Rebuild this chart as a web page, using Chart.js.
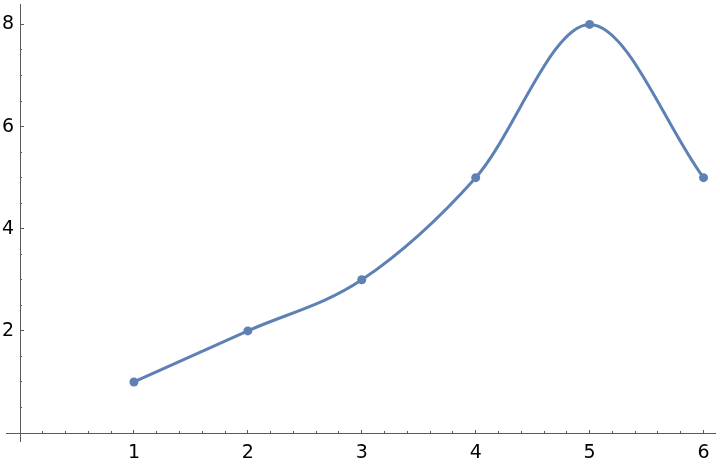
<!DOCTYPE html>
<html>
<head>
<meta charset="utf-8">
<script src="https://cdn.jsdelivr.net/npm/chart.js@4.4.0/dist/chart.umd.min.js"></script>
<style>
  html, body { margin: 0; padding: 0; background: #fff; }
</style>
</head>
<body>
<canvas id="chart" width="720" height="464"></canvas>
<script>
const xValues = [1, 2, 3, 4, 5, 6];
const yValues = [1, 2, 3, 5, 8, 5];
const xTickValues = [1, 2, 3, 4, 5, 6];
const yTickValues = [2, 4, 6, 8];

const X_MIN = -0.123;
const X_MAX = 6.105;
const Y_MIN = -0.156;
const Y_MAX = 8.39;

const AXIS_COLOR = "#5a5a5a";
const LINE_COLOR = "#5e81b5";
const labelFont = { family: "DejaVu Sans", size: 19 };

function majorTicks(values) {
  return (scale) => {
    scale.ticks = values.map((value) => ({ value }));
  };
}

// the axes sit inside the plot, so their labels should not push the plot area in
function noPadding(scale) {
  scale.paddingTop = 0;
  scale.paddingBottom = 0;
  scale.paddingLeft = 0;
  scale.paddingRight = 0;
}

new Chart(document.getElementById("chart").getContext("2d"), {
  type: "line",
  data: {
    datasets: [{
      data: xValues.map((x, i) => ({ x, y: yValues[i] })),
      borderColor: LINE_COLOR,
      backgroundColor: LINE_COLOR,
      borderWidth: 3,
      pointRadius: 4.5,
      pointBorderWidth: 0,
      pointBackgroundColor: LINE_COLOR,
      cubicInterpolationMode: "monotone",
      fill: false,
      clip: false
    }]
  },
  options: {
    responsive: false,
    animation: false,
    layout: { padding: { left: 6, right: 1, top: 0, bottom: 23 } },
    plugins: { legend: { display: false }, tooltip: { enabled: false } },
    scales: {
      x: {
        type: "linear",
        min: X_MIN,
        max: X_MAX,
        position: { y: 0 },
        afterBuildTicks: majorTicks(xTickValues),
        afterFit: noPadding,
        border: { color: AXIS_COLOR, width: 1 },
        grid: { drawOnChartArea: false, tickLength: -4, color: AXIS_COLOR },
        ticks: { color: "#000", font: labelFont, padding: 13, maxRotation: 0, autoSkip: false }
      },
      xMinor: {
        type: "linear",
        axis: "x",
        min: X_MIN,
        max: X_MAX,
        position: { y: 0 },
        afterFit: noPadding,
        border: { display: false },
        grid: { drawOnChartArea: false, tickLength: -2, color: AXIS_COLOR },
        ticks: { display: false, stepSize: 0.2, includeBounds: false }
      },
      y: {
        type: "linear",
        min: Y_MIN,
        max: Y_MAX,
        position: { x: 0 },
        afterBuildTicks: majorTicks(yTickValues),
        afterFit: noPadding,
        border: { color: AXIS_COLOR, width: 1 },
        grid: { drawOnChartArea: false, tickLength: -4, color: AXIS_COLOR },
        ticks: {
          color: "#000",
          font: labelFont,
          autoSkip: false,
          callback: (value) => value + " "
        }
      },
      yMinor: {
        type: "linear",
        axis: "y",
        min: Y_MIN,
        max: Y_MAX,
        position: { x: 0 },
        afterFit: noPadding,
        border: { display: false },
        grid: { drawOnChartArea: false, tickLength: -2, color: AXIS_COLOR },
        ticks: { display: false, stepSize: 0.5, includeBounds: false }
      }
    }
  }
});
</script>
</body>
</html>
